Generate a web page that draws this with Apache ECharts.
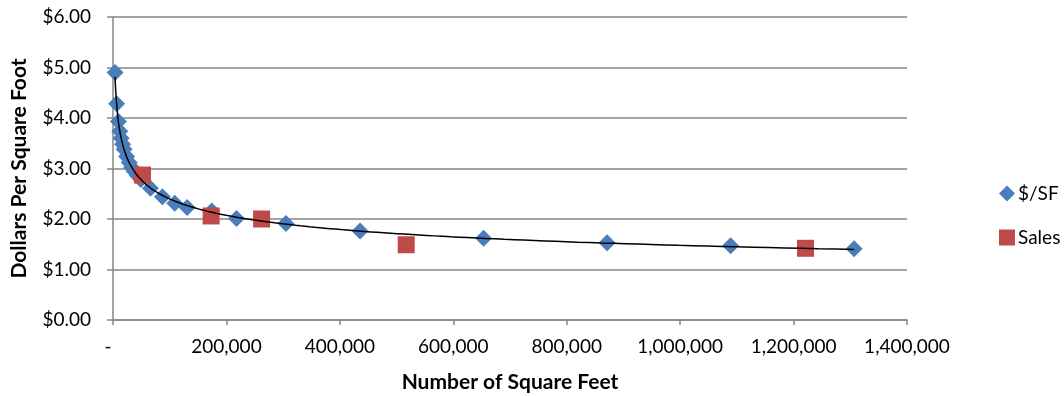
<!DOCTYPE html>
<html>
<head>
<meta charset="utf-8">
<style>
  html, body { margin: 0; padding: 0; background: #fff; }
  #chart { width: 1064px; height: 396px; }
</style>
<script src="https://cdn.jsdelivr.net/npm/echarts@6/dist/echarts.min.js"></script>
</head>
<body>
<div id="chart"></div>
<script>
// Price per square foot by lot size
const sfX = [3600, 6400, 9600, 12000, 14400, 17000, 19500, 24000, 28500, 33000, 37500, 43000, 49000,
             66000, 87120, 108900, 130680, 174240, 217800, 304920, 435600, 653400, 871200,
             1089000, 1306800];
const sfY = [4.90, 4.28, 3.93, 3.74, 3.60, 3.48, 3.38, 3.24, 3.12, 3.02, 2.94, 2.86, 2.78,
             2.61, 2.44, 2.31, 2.23, 2.16, 2.01, 1.91, 1.76, 1.62, 1.53,
             1.47, 1.41];

// Comparable sales
const salesX = [52000, 173000, 262000, 517000, 1221000];
const salesY = [2.87, 2.06, 2.00, 1.49, 1.42];

const xTicks = [0, 200000, 400000, 600000, 800000, 1000000, 1200000, 1400000];
const yTicks = [0, 1, 2, 3, 4, 5, 6];

const seriesNames = ['$/SF', 'Sales'];
const xTitle = 'Number of Square Feet';
const yTitle = 'Dollars Per Square Foot';

// Power trendline (y = a * x^b) fitted to the $/SF series by least squares in log space
function powerFit(xs, ys) {
  const n = xs.length;
  let sx = 0, sy = 0, sxx = 0, sxy = 0;
  for (let i = 0; i < n; i++) {
    const lx = Math.log(xs[i]), ly = Math.log(ys[i]);
    sx += lx; sy += ly; sxx += lx * lx; sxy += lx * ly;
  }
  const b = (n * sxy - sx * sy) / (n * sxx - sx * sx);
  const a = Math.exp((sy - b * sx) / n);
  return { a, b };
}
const fit = powerFit(sfX, sfY);
const xMin = Math.min(...sfX), xMax = Math.max(...sfX);
const trend = [];
const steps = 240;
for (let i = 0; i <= steps; i++) {
  const x = xMin * Math.pow(xMax / xMin, i / steps);
  trend.push([x, fit.a * Math.pow(x, fit.b)]);
}

const FONT = 'Lato';
const gridColor = '#868686';
const sfColor = '#4A7EBB';
const salesColor = '#BE4B48';

const chart = echarts.init(document.getElementById('chart'), null, { renderer: 'canvas' });
chart.setOption({
  animation: false,
  backgroundColor: '#ffffff',
  textStyle: { fontFamily: FONT, color: '#000' },
  grid: { left: 113, right: 157, top: 17, bottom: 76, containLabel: false, outerBoundsMode: 'none' },
  legend: {
    orient: 'vertical',
    left: 994,
    top: 179,
    itemWidth: 16,
    itemHeight: 16,
    itemGap: 25,
    data: [
      { name: seriesNames[0], icon: 'diamond' },
      { name: seriesNames[1], icon: 'rect' }
    ],
    textStyle: { fontFamily: FONT, fontSize: 19, color: '#000', padding: [0, 0, 0, -2] }
  },
  xAxis: {
    type: 'value',
    min: xTicks[0],
    max: xTicks[xTicks.length - 1],
    interval: xTicks[1] - xTicks[0],
    name: xTitle,
    nameLocation: 'middle',
    nameGap: 52,
    nameTextStyle: { fontFamily: FONT, fontSize: 21, fontWeight: 'bold', color: '#000' },
    axisLine: { show: true, lineStyle: { color: gridColor, width: 1.5 } },
    axisTick: { show: true, length: 5, lineStyle: { color: gridColor, width: 1.5 } },
    splitLine: { show: false },
    axisLabel: {
      margin: 17,
      fontSize: 19,
      color: '#000',
      formatter: v => v === 0 ? '{dash|-}' : v.toLocaleString('en-US'),
      rich: { dash: { fontSize: 19, padding: [0, 10, 0, 0] } }
    }
  },
  yAxis: {
    type: 'value',
    min: yTicks[0],
    max: yTicks[yTicks.length - 1],
    interval: yTicks[1] - yTicks[0],
    name: yTitle,
    nameLocation: 'middle',
    nameGap: 83,
    nameRotate: 90,
    nameTextStyle: { fontFamily: FONT, fontSize: 21, fontWeight: 'bold', color: '#000' },
    axisLine: { show: true, lineStyle: { color: gridColor, width: 1.5 } },
    axisTick: { show: true, length: 6, lineStyle: { color: gridColor, width: 1.5 } },
    splitLine: { show: true, lineStyle: { color: gridColor, width: 1.5 } },
    axisLabel: {
      margin: 22,
      fontSize: 19,
      color: '#000',
      formatter: v => '$' + v.toFixed(2)
    }
  },
  series: [
    {
      name: seriesNames[0],
      type: 'scatter',
      symbol: 'diamond',
      symbolSize: 17,
      itemStyle: { color: sfColor, opacity: 1 },
      z: 2,
      data: sfX.map((x, i) => [x, sfY[i]])
    },
    {
      name: seriesNames[1],
      type: 'scatter',
      symbol: 'rect',
      symbolSize: 17,
      itemStyle: { color: salesColor, opacity: 1 },
      z: 3,
      data: salesX.map((x, i) => [x, salesY[i]])
    },
    {
      name: 'Power trendline',
      type: 'line',
      showSymbol: false,
      symbol: 'none',
      smooth: false,
      lineStyle: { color: '#000', width: 1.5 },
      z: 4,
      silent: true,
      data: trend
    }
  ]
});
</script>
</body>
</html>
